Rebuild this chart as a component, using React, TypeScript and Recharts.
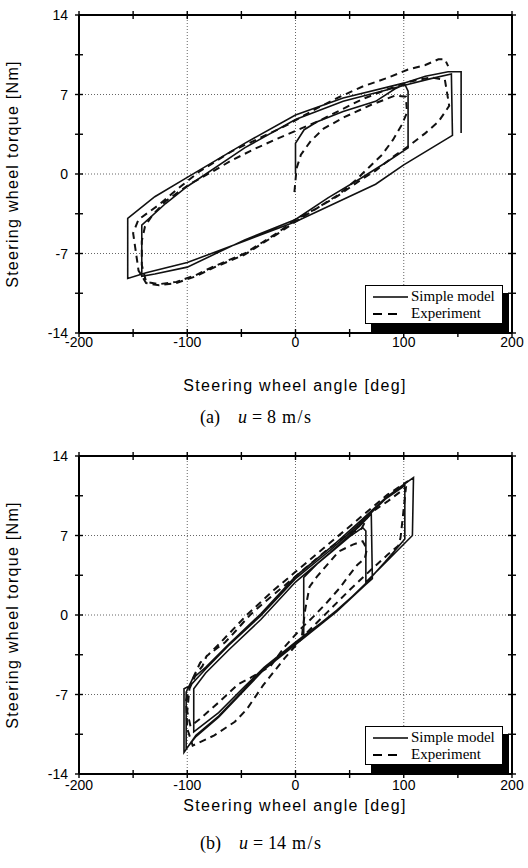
import React from 'react';
import { LineChart, Line, XAxis, YAxis, ReferenceLine } from 'recharts';

const xTicks = [-200, -150, -100, -50, 0, 50, 100, 150, 200];
const yTicks = [-14, -10.5, -7, -3.5, 0, 3.5, 7, 10.5, 14];
const xLabeled = [-200, -100, 0, 100, 200];
const yLabeled = [-14, -7, 0, 7, 14];
const xGrid = [-100, 0, 100];
const yGrid = [-7, 0, 7];
const seriesNames = ['Simple model', 'Experiment'];

// (a) u = 8 m/s  -- [steering angle deg, torque Nm] in drawing order
const simpleA = [
  [0, 0], [0, 2.7], [8, 3.9], [20, 4.6], [44, 5.5], [74, 6.4], [92, 7.5], [101, 7.9], [104, 7.3], [104, 2.3],
  [85, 1.1], [60, -0.4], [30, -2.1], [0, -4.0], [-47, -5.8], [-100, -8.2], [-130, -8.8], [-142, -9.0],
  [-142, -4.5], [-120, -2.6], [-100, -1.1], [-47, 2.3], [0, 4.8], [44, 6.4], [100, 7.8], [125, 8.4], [144, 8.8],
  [145, 3.4], [100, 0.8], [74, -0.9], [0, -4.2], [-47, -5.9], [-100, -7.8], [-138, -8.7], [-155, -9.2],
  [-155, -3.9], [-130, -2.0], [-100, -0.3], [-47, 2.7], [0, 5.2], [44, 6.7], [100, 8.0], [120, 8.6], [141, 9.0],
  [153, 9.0], [153, 3.6],
];
const expA = [
  [-1, -1.6], [1, 0.5], [5, 1.7], [14, 2.9], [26, 4.0], [45, 5.0], [70, 6.1], [92, 6.9], [102, 6.8], [103, 5.4],
  [98, 4.3], [90, 3.0], [80, 1.7], [68, 0.6], [55, -0.6], [40, -1.8], [20, -3.0], [0, -4.0], [-17, -5.2],
  [-47, -7.0], [-77, -8.2], [-92, -8.9], [-110, -9.5], [-126, -9.7], [-138, -9.5], [-142, -8.0], [-142, -5.9],
  [-139, -4.6], [-132, -3.6], [-120, -2.4], [-98, -0.9], [-77, 0.2], [-59, 1.2], [-38, 2.2], [-17, 3.1], [0, 3.8],
  [20, 4.6], [41, 5.6], [62, 6.6], [86, 7.5], [104, 8.1], [125, 8.5], [138, 8.3], [142, 6.0], [132, 4.6],
  [120, 3.6], [105, 2.5], [90, 1.5], [74, 0.3], [59, -0.6], [38, -2.0], [20, -3.0], [0, -4.2], [-17, -5.3],
  [-47, -7.1], [-77, -8.3], [-92, -9.0], [-110, -9.6], [-126, -9.8], [-138, -9.6], [-145, -8.5], [-150, -5.2],
  [-145, -4.0], [-126, -2.7], [-110, -1.4], [-89, 0.2], [-59, 2.0], [-30, 3.3], [-8, 4.3], [20, 5.8], [41, 6.8],
  [62, 7.7], [86, 8.5], [104, 9.2], [120, 9.6], [132, 10.1], [138, 10.1], [141, 9.5],
];

// (b) u = 14 m/s
const simpleB = [
  [7.6, -1.8], [7.6, 3.3], [20, 4.5], [35, 5.7], [50, 6.9], [62, 7.7], [65, 7.4], [65, 2.7], [38, 0.3],
  [13.6, -1.4], [0, -2.4], [-29, -4.6], [-47, -6.3], [-71, -8.6], [-94, -10.3], [-94, -6.5], [-83, -5.1],
  [-62, -3.1], [-32, -0.4], [0, 2.9], [32, 5.5], [59, 7.8], [70, 8.9], [71, 3.2], [38, 0.4], [0, -2.5],
  [-29, -4.75], [-47, -6.5], [-71, -8.9], [-92, -10.6], [-103, -12.1], [-103, -6.5], [-97, -6.2], [-83, -4.75],
  [-62, -2.7], [-32, -0.06], [0, 3.2], [32, 5.7], [59, 8.0], [83, 10.2], [101, 11.4], [101, 6.7], [83, 4.7],
  [65, 2.8], [38, 0.3], [0, -2.6], [-29, -4.8], [-47, -6.6], [-71, -9.0], [-92, -10.7], [-101, -11.8],
  [-101, -6.8], [-95, -5.6], [-83, -4.6], [-62, -2.6], [-32, 0.1], [0, 3.4], [32, 5.9], [59, 8.2], [83, 10.3],
  [95.5, 11.2], [109, 12.1], [108, 7.0], [83, 4.6], [65, 2.9],
];
const expB = [
  [6, -1.8], [9, 0.5], [13, 2.5], [20, 3.4], [30, 4.5], [40, 5.6], [53, 6.2], [62, 6.5], [66, 5.8], [64, 5.0],
  [57, 4.4], [48, 3.3], [41, 2.4], [29, 1.1], [17, -0.1], [5, -1.2], [-10, -2.8], [-23, -4.5], [-41, -5.5],
  [-53, -6.1], [-71, -7.7], [-89, -9.2], [-97, -9.8], [-100, -8.5], [-98, -6.5], [-92, -5.2], [-86, -4.5],
  [-82, -3.6], [-65, -2.4], [-59, -1.8], [-42, 0.0], [-29, 1.1], [-10, 2.6], [10, 4.2], [30, 5.8], [50, 7.2],
  [61, 7.6], [68, 8.9], [85, 10.0], [96, 10.8], [102, 11.2], [99, 8.5], [97, 6.8], [95, 6.1], [85, 5.3],
  [70, 4.0], [50, 2.2], [30, 0.3], [10, -1.6], [-10, -3.8], [-30, -6.2], [-45, -8.3], [-56, -9.4], [-75, -10.6],
  [-95, -11.5], [-100, -10.0], [-101, -7.5], [-96, -5.8], [-88, -4.2], [-70, -2.5], [-45, 0.0], [-20, 2.2],
  [0, 3.8], [30, 6.2], [60, 8.6], [85, 10.6], [104, 11.8],
];

const toRows = (pts: number[][]) => pts.map(([x, y]) => ({ x, y }));

const sans = '"Liberation Sans", Arial, Helvetica, sans-serif';
const serif = '"Liberation Serif", "Times New Roman", serif';

const XTick = (props: any) => {
  const { x, y, payload, showLabel, gap } = props;
  const v = payload.value;
  return (
    <g>
      <line x1={x} x2={x} y1={y - 4} y2={y + 4} stroke="#000" strokeWidth={1.4} />
      {showLabel && xLabeled.includes(v) && (
        <text x={x} y={y + gap} textAnchor="middle" fontSize={14} fontFamily={sans} fill="#000">
          {v}
        </text>
      )}
    </g>
  );
};

const YTick = (props: any) => {
  const { x, y, payload, showLabel } = props;
  const v = payload.value;
  return (
    <g>
      <line x1={x - 4} x2={x + 4} y1={y} y2={y} stroke="#000" strokeWidth={1.4} />
      {showLabel && yLabeled.includes(v) && (
        <text x={x - 11} y={y + 5} textAnchor="end" fontSize={14} fontFamily={sans} fill="#000">
          {v}
        </text>
      )}
    </g>
  );
};

const axisStroke = { stroke: '#000', strokeWidth: 2 };

const Panel = ({ top, simple, exp, tag, speed, tickGap, titleY, captionY }: any) => (
  <div style={{ position: 'absolute', left: 0, top, width: 528, height: 440 }}>
    <LineChart width={528} height={373} margin={{ top: 5, right: 6, bottom: 10, left: 39 }}>
      <XAxis xAxisId="b" dataKey="x" type="number" domain={[-200, 200]} ticks={xTicks} interval={0}
        allowDataOverflow height={30} tickSize={0} tickMargin={0} axisLine={axisStroke} tickLine={false}
        tick={(p: any) => <XTick {...p} showLabel gap={tickGap} />} />
      <XAxis xAxisId="t" orientation="top" dataKey="x" type="number" domain={[-200, 200]} ticks={xTicks}
        interval={0} allowDataOverflow height={10} tickSize={0} tickMargin={0} axisLine={axisStroke}
        tickLine={false} tick={(p: any) => <XTick {...p} showLabel={false} />} />
      <YAxis yAxisId="l" type="number" domain={[-14, 14]} ticks={yTicks} interval={0} allowDataOverflow
        width={40} tickSize={0} tickMargin={0} axisLine={axisStroke} tickLine={false}
        tick={(p: any) => <YTick {...p} showLabel />} />
      <YAxis yAxisId="r" orientation="right" type="number" domain={[-14, 14]} ticks={yTicks} interval={0}
        allowDataOverflow width={10} tickSize={0} tickMargin={0} axisLine={axisStroke} tickLine={false}
        tick={(p: any) => <YTick {...p} showLabel={false} />} />
      {xGrid.map((v) => (
        <ReferenceLine key={'x' + v} xAxisId="b" yAxisId="l" x={v} stroke="#666" strokeWidth={1}
          strokeDasharray="1 2" />
      ))}
      {yGrid.map((v) => (
        <ReferenceLine key={'y' + v} xAxisId="b" yAxisId="l" y={v} stroke="#666" strokeWidth={1}
          strokeDasharray="1 2" />
      ))}
      <Line xAxisId="b" yAxisId="l" data={toRows(exp)} dataKey="y" name={seriesNames[1]} type="linear"
        stroke="#111" strokeWidth={2} strokeDasharray="7 5" dot={false} isAnimationActive={false} />
      <Line xAxisId="b" yAxisId="l" data={toRows(simple)} dataKey="y" name={seriesNames[0]} type="linear"
        stroke="#111" strokeWidth={1.6} dot={false} isAnimationActive={false} />
    </LineChart>

    {/* legend */}
    <div style={{
      position: 'absolute', left: 365, top: 285, width: 136, height: 37, border: '1px solid #000',
      background: '#fff', boxShadow: '6px 8px 0 #000', fontFamily: serif, fontSize: 15, color: '#000',
    }}>
      <svg width={44} height={37} style={{ position: 'absolute', left: 0, top: 0 }}>
        <line x1={7} x2={42} y1={11} y2={11} stroke="#000" strokeWidth={1.5} />
        <line x1={7} x2={34} y1={28} y2={28} stroke="#000" strokeWidth={1.8} strokeDasharray="9 6" />
      </svg>
      <div style={{ position: 'absolute', left: 45, top: 2, lineHeight: '17px' }}>{seriesNames[0]}</div>
      <div style={{ position: 'absolute', left: 45, top: 19, lineHeight: '17px' }}>{seriesNames[1]}</div>
    </div>

    {/* axis titles */}
    <div style={{
      position: 'absolute', left: 13, top: 174, transform: 'translate(-50%, -50%) rotate(-90deg)',
      whiteSpace: 'nowrap', fontFamily: sans, fontSize: 16, letterSpacing: 1.3, color: '#000',
    }}>
      Steering wheel torque [Nm]
    </div>
    <div style={{
      position: 'absolute', left: 295, top: titleY, transform: 'translate(-50%, -50%)', whiteSpace: 'nowrap',
      fontFamily: sans, fontSize: 16, letterSpacing: 1.3, color: '#000',
    }}>
      Steering wheel angle [deg]
    </div>
    <div style={{
      position: 'absolute', left: 200, top: captionY, transform: 'translateY(-50%)', whiteSpace: 'nowrap',
      fontFamily: serif, fontSize: 18, color: '#000',
    }}>
      <span>({tag})</span>
      <span style={{ marginLeft: 18, fontStyle: 'italic' }}>u</span>
      <span style={{ display: 'inline-block', width: 20, textAlign: 'center' }}>=</span>
      <span>{speed}</span>
      <span style={{ marginLeft: 6, letterSpacing: 1.5 }}>m/s</span>
    </div>
  </div>
);

export default function App() {
  return (
    <div style={{ position: 'absolute', left: 0, top: 0, width: 528, height: 868, background: '#fff', overflow: 'hidden' }}>
      <Panel top={0} simple={simpleA} exp={expA} tag="a" speed="8" tickGap={14} titleY={386} captionY={417} />
      <Panel top={441} simple={simpleB} exp={expB} tag="b" speed="14" tickGap={16} titleY={365} captionY={402} />
    </div>
  );
}
